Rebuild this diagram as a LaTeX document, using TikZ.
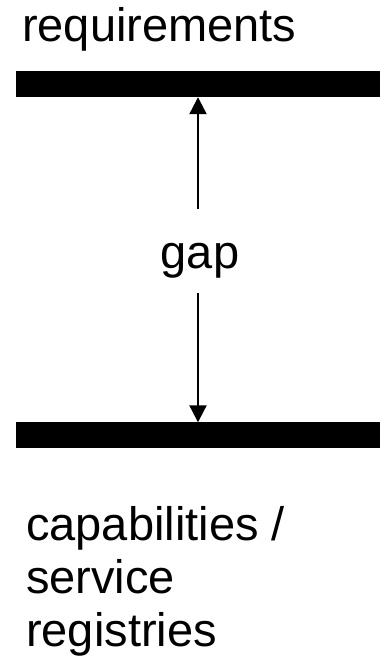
\documentclass[tikz,border=0pt]{standalone}
\usepackage{fontspec}
\setmainfont{Liberation Sans}
\usetikzlibrary{arrows.meta}
\begin{document}
\begin{tikzpicture}[x=1bp,y=1bp,
  bar/.style={rectangle, fill=black, draw=none, inner sep=0pt,
    minimum width=364bp, minimum height=26bp},
  label/.style={inner sep=0pt, font=\fontsize{47bp}{53bp}\selectfont},
  gaparrow/.style={line width=2.2bp, -{Triangle[width=17bp,length=17bp]}}]
  \useasboundingbox (0,0) rectangle (386,664);
  % the two levels
  \node[bar] (top) at (198,580) {};
  \node[bar] (bottom) at (198,228.5) {};
  % texts
  \node[label, anchor=base west] (req) at (22,622) {requirements};
  \node[label, anchor=base] (gap) at (200,395) {gap};
  \node[label, anchor=base west, align=left] (cap) at (26,17.5)
    {capabilities /\\service\\registries};
  % ends of the arrow shafts next to the gap label
  \coordinate (gapup) at (198,455);
  \coordinate (gapdown) at (198,371);
  \draw[gaparrow] (gapup) -- (top.south);
  \draw[gaparrow] (gapdown) -- (bottom.north);
\end{tikzpicture}
\end{document}
